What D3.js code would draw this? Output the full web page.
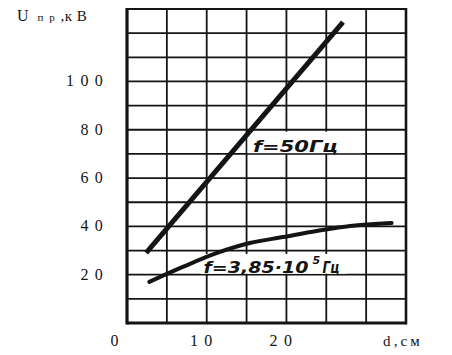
<!DOCTYPE html>
<html><head><meta charset="utf-8">
<script src="https://cdn.jsdelivr.net/npm/d3@7"></script>
<style>body{margin:0;background:#fff}svg{display:block}</style>
</head><body>
<svg id="c" width="452" height="355"></svg>
<script>
// ---- data ----
const xTicks = [0, 10, 20];
const xTickLabels = ["0", "1 0", "2 0"];
const yTicks = [20, 40, 60, 80, 100];
const yTickLabels = ["2 0", "4 0", "6 0", "8 0", "1 0 0"];
const curve50d = [2.4, 27.1];
const curve50v = [29.0, 124.6];
const curveHFd = [2.8, 7.0, 11.3, 15.4, 19.6, 23.8, 28.0, 33.2];
const curveHFv = [17.0, 23.2, 29.0, 33.1, 35.6, 38.1, 40.2, 41.4];
const label50 = "f=50Гц";
const labelHF = "f=3,85·10";
const labelHFexp = "5";
const labelHFunit = "Гц";

// ---- layout ----
const svg = d3.select("#c");
const x = d3.scaleLinear().domain([0, 35]).range([127, 406]);
const y = d3.scaleLinear().domain([0, 130]).range([323, 9]);
const ink = "#141414";

// grid
const gv = svg.append("g").attr("class", "gridv");
gv.selectAll("line.vg").data(d3.range(5, 35, 5)).enter().append("line").attr("class", "vg")
  .attr("x1", d => x(d)).attr("x2", d => x(d)).attr("y1", y(130)).attr("y2", y(0))
  .style("stroke", ink).style("stroke-width", "1.8px");
const gh = svg.append("g").attr("class", "gridh");
gh.selectAll("line.hg").data(d3.range(10, 130, 10)).enter().append("line").attr("class", "hg")
  .attr("x1", x(0)).attr("x2", x(35)).attr("y1", d => y(d)).attr("y2", d => y(d))
  .style("stroke", ink).style("stroke-width", "1.8px");
// frame
const g = svg.append("g");
g.append("line").attr("x1", x(0)).attr("x2", x(0)).attr("y1", y(130)-1).attr("y2", y(0)+1.5).attr("stroke", ink).attr("stroke-width", 3.2);
g.append("line").attr("x1", x(35)).attr("x2", x(35)).attr("y1", y(130)-1).attr("y2", y(0)+1.5).attr("stroke", ink).attr("stroke-width", 2.6);
g.append("line").attr("x1", x(0)).attr("x2", x(35)).attr("y1", y(130)).attr("y2", y(130)).attr("stroke", ink).attr("stroke-width", 2.2);
g.append("line").attr("x1", x(0)).attr("x2", x(35)).attr("y1", y(0)).attr("y2", y(0)).attr("stroke", ink).attr("stroke-width", 2.8);

// label boxes (white, cover grid)
g.append("rect").attr("x", x(15)+1).attr("y", y(79.2)).attr("width", x(29.5)-x(15)-1)
  .attr("height", y(70.3)-y(79.2)).attr("fill", "#fff");
g.append("rect").attr("x", x(9.2)).attr("y", y(28.6)).attr("width", x(27.5)-x(9.2))
  .attr("height", y(20.4)-y(28.6)).attr("fill", "#fff");

// curves
const line = d3.line().x(d => x(d[0])).y(d => y(d[1]));
svg.append("path").datum(d3.zip(curve50d, curve50v))
  .attr("d", line).attr("fill", "none").attr("stroke", ink).attr("stroke-width", 5);
svg.append("path").datum(d3.zip(curveHFd, curveHFv))
  .attr("d", d3.line().x(d => x(d[0])).y(d => y(d[1])).curve(d3.curveCatmullRom))
  .attr("fill", "none").attr("stroke", ink)
  .attr("stroke-width", 4).attr("stroke-linecap", "round");

// curve labels
const lblFont = "'DejaVu Sans', sans-serif";
svg.append("text").attr("x", x(15.8)).attr("y", y(71)).text(label50)
  .attr("font-family", lblFont).attr("font-style", "italic").attr("font-weight", "bold")
  .attr("font-size", 16).attr("textLength", 85).attr("lengthAdjust", "spacingAndGlyphs").attr("fill", ink);
svg.append("text").attr("x", x(9.6)).attr("y", y(20.8)).text(labelHF)
  .attr("font-family", lblFont).attr("font-style", "italic").attr("font-weight", "bold")
  .attr("font-size", 16).attr("textLength", 105).attr("lengthAdjust", "spacingAndGlyphs").attr("fill", ink);
svg.append("text").attr("x", x(9.6)+109).attr("y", y(20.8)-9).text(labelHFexp)
  .attr("font-family", lblFont).attr("font-style", "italic").attr("font-weight", "bold")
  .attr("font-size", 11).attr("fill", ink);
svg.append("text").attr("x", x(9.6)+119).attr("y", y(20.8)).text(labelHFunit)
  .attr("font-family", lblFont).attr("font-style", "italic").attr("font-weight", "bold")
  .attr("font-size", 16).attr("textLength", 17).attr("lengthAdjust", "spacingAndGlyphs").attr("fill", ink);

// axes labels
const axFont = "'Liberation Serif', 'Times New Roman', serif";
svg.append("g").selectAll("text").data(yTicks).join("text")
  .attr("x", 104).attr("y", d => y(d) + 5)
  .attr("text-anchor", "end").attr("font-family", axFont).attr("font-size", 16)
  .attr("letter-spacing", 1.2)
  .attr("fill", ink).text((d, i) => yTickLabels[i]);
svg.append("g").selectAll("text").data(xTicks).join("text")
  .attr("x", (d, i) => x(d) - (i === 0 ? 12 : 5)).attr("y", 346)
  .attr("text-anchor", "middle").attr("font-family", axFont).attr("font-size", 16)
  .attr("letter-spacing", 1.2)
  .attr("fill", ink).text((d, i) => xTickLabels[i]);

// axis titles
const yt = svg.append("text").attr("x", 17).attr("y", 21).attr("font-family", axFont).attr("fill", ink);
yt.append("tspan").attr("font-size", 16).text("U");
yt.append("tspan").attr("font-size", 11).attr("dx", 9).attr("letter-spacing", 1.5).text("п р");
yt.append("tspan").attr("font-size", 15).attr("letter-spacing", 0.5).text(" ,к В");
svg.append("text").attr("x", 383).attr("y", 346).attr("font-family", axFont)
  .attr("font-size", 15).attr("fill", ink).text("d , с м").attr("letter-spacing", -0.3);
</script>
</body></html>
